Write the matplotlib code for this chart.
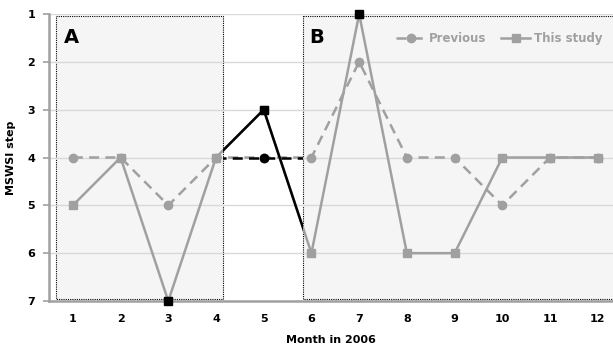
import matplotlib.pyplot as plt
from matplotlib.patches import Rectangle

months = [1, 2, 3, 4, 5, 6, 7, 8, 9, 10, 11, 12]
previous = [4, 4, 5, 4, 4, 4, 2, 4, 4, 5, 4, 4]
this_study = [5, 4, 7, 4, 3, 6, 1, 6, 6, 4, 4, 4]

gray = '#a0a0a0'
plt.rcParams['font.family'] = 'DejaVu Sans'

fig = plt.figure(figsize=(6.13, 3.54), dpi=100)
ax = fig.add_axes([49 / 613, 53 / 354, 1 - 49 / 613, 287 / 354])

ax.set_xlim(0.5, 12.32)
ax.set_ylim(7, 1)

# shaded panels A and B
ax.add_patch(Rectangle((0.65, 1.04), 3.5, 5.92, facecolor='#f5f5f5',
                       edgecolor='black', linestyle=(0, (1, 1)), linewidth=0.8, zorder=0))
ax.add_patch(Rectangle((5.82, 1.04), 7, 5.92, facecolor='#f5f5f5',
                       edgecolor='black', linestyle=(0, (1, 1)), linewidth=0.8, zorder=0,
                       clip_on=True))

for v in range(1, 8):
    ax.axhline(v, color='#d9d9d9', linewidth=1, zorder=0.5)

ax.plot(months, previous, color=gray, linestyle=(0, (4, 2.5)), linewidth=1.8,
        marker='o', markersize=6, label='Previous', zorder=2)
ax.plot(months, this_study, color=gray, linewidth=1.8, marker='s', markersize=6,
        label='This study', zorder=3)

# black segments between the two panels
clip = Rectangle((4.15, 0), 5.82 - 4.15, 8, transform=ax.transData)
l1, = ax.plot(months[3:6], previous[3:6], color='black', linestyle=(0, (4, 2.5)),
              linewidth=1.8, zorder=4)
l2, = ax.plot(months[3:6], this_study[3:6], color='black', linewidth=1.8, zorder=4)
l1.set_clip_path(clip)
l2.set_clip_path(clip)
ax.plot([5], [previous[4]], 'o', color='black', markersize=6, zorder=5)
ax.plot([3, 5, 7], [this_study[2], this_study[4], this_study[6]], 's', color='black',
        markersize=6, zorder=5, clip_on=False)

ax.text(0.82, 1.6, 'A', fontsize=14, fontweight='bold')
ax.text(5.95, 1.6, 'B', fontsize=14, fontweight='bold')

leg = ax.legend(loc='upper right', ncol=2, frameon=False, fontsize=8.5,
                bbox_to_anchor=(1.0, 0.975), handlelength=2.5, columnspacing=1.2,
                handletextpad=0.3)
for t in leg.get_texts():
    t.set_color(gray)
    t.set_fontweight('bold')

ax.set_xticks(months)
ax.set_yticks(range(1, 8))
ax.tick_params(axis='both', labelsize=8, colors='black', length=0, pad=9)
ax.tick_params(axis='y', length=4, color=gray, width=1.2, pad=6)
for lab in ax.get_xticklabels() + ax.get_yticklabels():
    lab.set_fontweight('bold')

for s in ['top', 'right']:
    ax.spines[s].set_visible(False)
for s in ['left', 'bottom']:
    ax.spines[s].set_color(gray)
    ax.spines[s].set_linewidth(1.8)
ax.set_facecolor('white')

ax.set_xlabel('Month in 2006', fontsize=8, fontweight='bold', labelpad=8)
ax.set_ylabel('MSWSI step', fontsize=8, fontweight='bold', labelpad=8)

fig.savefig('out.png', dpi=100)
